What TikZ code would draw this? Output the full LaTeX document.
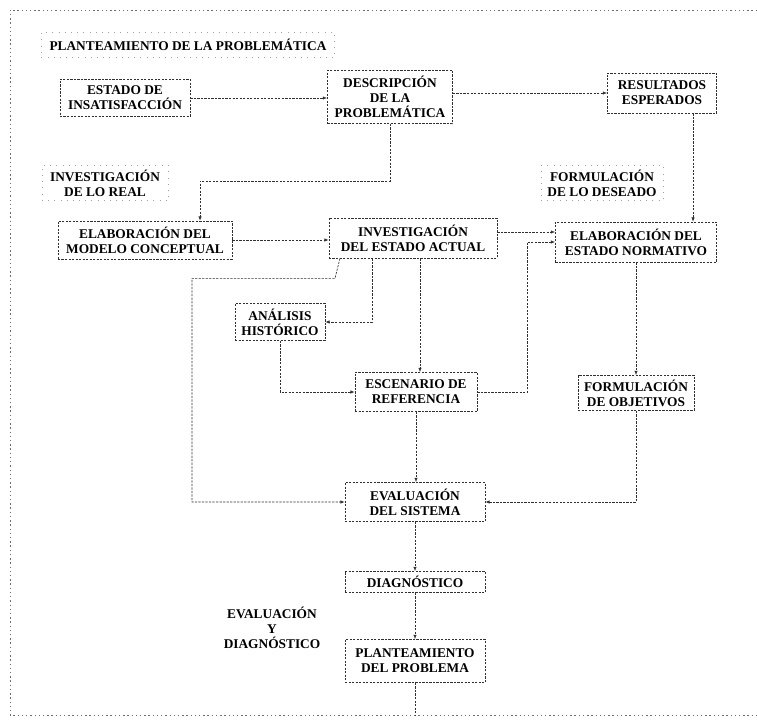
\documentclass[tikz,border=0pt]{standalone}
\usepackage{fontspec}
\setmainfont{Liberation Serif}
\usetikzlibrary{arrows.meta,positioning,calc}
\definecolor{ink}{HTML}{303030}
\tikzset{
  box/.style={draw=ink, dash pattern=on 1.6pt off 0.9pt, line width=0.45pt, align=center,
    inner sep=1pt, font=\fontsize{9.5}{10.5}\selectfont\bfseries},
  tag/.style={draw=ink!45, loosely dotted, line width=0.4pt, align=center,
    inner sep=1pt, font=\fontsize{9.5}{10.5}\selectfont\bfseries},
  conn/.style={draw=ink, dash pattern=on 1.6pt off 0.9pt, line width=0.45pt, -{Latex[length=3pt,width=2.4pt]}},
  wire/.style={draw=ink, dash pattern=on 1.6pt off 0.9pt, line width=0.45pt},
  frame/.style={draw=ink!70, dash pattern=on 1pt off 2pt, line width=0.45pt},
}
\begin{document}
\begin{tikzpicture}[x=0.025cm, y=-0.025cm]
  \useasboundingbox (0,0) rectangle (757,728);
  % outer frame
  \coordinate (ftr) at (757,10);
  \coordinate (ftl) at (10,10);
  \coordinate (fbl) at (10,715);
  \coordinate (fbr) at (757,715);
  \draw[frame] (ftr) -- (ftl) -- (fbl) -- (fbr);
  % labels
  \node[tag, minimum width=7.33cm, minimum height=0.63cm] (titulo) at (188,45) {PLANTEAMIENTO DE LA PROBLEMÁTICA};
  \node[tag, minimum width=3.15cm, minimum height=0.88cm] (invreal) at (105,183) {INVESTIGACIÓN\\DE LO REAL};
  \node[tag, minimum width=3.05cm, minimum height=0.88cm] (formdes) at (602,183) {FORMULACIÓN\\DE LO DESEADO};
  \node[align=center, font=\fontsize{9.5}{10.5}\selectfont\bfseries] (evaldiag) at (272,628) {EVALUACIÓN\\Y\\DIAGNÓSTICO};
  % boxes
  \node[box, minimum width=3.25cm, minimum height=0.93cm] (insat) at (125,98) {ESTADO DE\\INSATISFACCIÓN};
  \node[box, minimum width=3.13cm, minimum height=1.33cm] (descr) at (390,97) {DESCRIPCIÓN\\DE LA\\PROBLEMÁTICA};
  \node[box, minimum width=2.73cm, minimum height=1.0cm] (result) at (662,93) {RESULTADOS\\ESPERADOS};
  \node[box, minimum width=4.35cm, minimum height=0.95cm] (modelo) at (145,240) {ELABORACIÓN DEL\\MODELO CONCEPTUAL};
  \node[box, minimum width=4.2cm, minimum height=1.0cm] (invact) at (413,238) {INVESTIGACIÓN\\DEL ESTADO ACTUAL};
  \node[box, minimum width=4.03cm, minimum height=1.0cm] (normat) at (636,242) {ELABORACIÓN DEL\\ESTADO NORMATIVO};
  \node[box, minimum width=2.25cm, minimum height=0.93cm] (analisis) at (280,322) {ANÁLISIS\\HISTÓRICO};
  \node[box, minimum width=3.05cm, minimum height=0.98cm] (escen) at (416,392) {ESCENARIO DE\\REFERENCIA};
  \node[box, minimum width=2.9cm, minimum height=0.88cm] (objet) at (636,393) {FORMULACIÓN\\DE OBJETIVOS};
  \node[box, minimum width=3.5cm, minimum height=0.98cm] (evalsis) at (415,502) {EVALUACIÓN\\DEL SISTEMA};
  \node[box, minimum width=3.5cm, minimum height=0.53cm] (diagn) at (415,582) {DIAGNÓSTICO};
  \node[box, minimum width=3.5cm, minimum height=1.08cm] (plantprob) at (415,661) {PLANTEAMIENTO\\DEL PROBLEMA};
  % connectors
  \draw[conn] (insat.east) -- (insat.east -| descr.west);
  \draw[conn] (result.west -| descr.east) -- (result.west);
  \draw[conn] (descr.south) -- ++(0,57) -| ([xshift=1.375cm]modelo.north);
  \draw[conn] ([xshift=0.775cm]result.south) -- ([xshift=0.775cm]result.south |- normat.north);
  \draw[conn] (modelo.east) -- (modelo.east -| invact.west);
  \draw[conn] ([yshift=0.15cm]invact.east) -- ([yshift=0.15cm]invact.east -| normat.west);
  \draw[conn] ([xshift=-1.025cm]invact.south) |- (analisis.east);
  \draw[conn] ([xshift=0.175cm]invact.south) -- ([xshift=0.175cm]invact.south |- escen.north);
  \draw[conn] ([xshift=-1.825cm]invact.south) -- ++(-5,20) -- ++(-143,0) |- (evalsis.west);
  \draw[conn] (analisis.south) |- (escen.west);
  \draw[conn] (escen.east) -- ++(50,0) |- (normat.west);
  \draw[conn] (normat.south) -- (objet.north);
  \draw[conn] (objet.south) |- (evalsis.east);
  \draw[conn] (escen.south) -- (escen.south |- evalsis.north);
  \draw[conn] (evalsis) -- (diagn);
  \draw[conn] (diagn) -- (plantprob);
  \draw[wire] (plantprob.south) -- (plantprob.south |- fbl);
\end{tikzpicture}
\end{document}
